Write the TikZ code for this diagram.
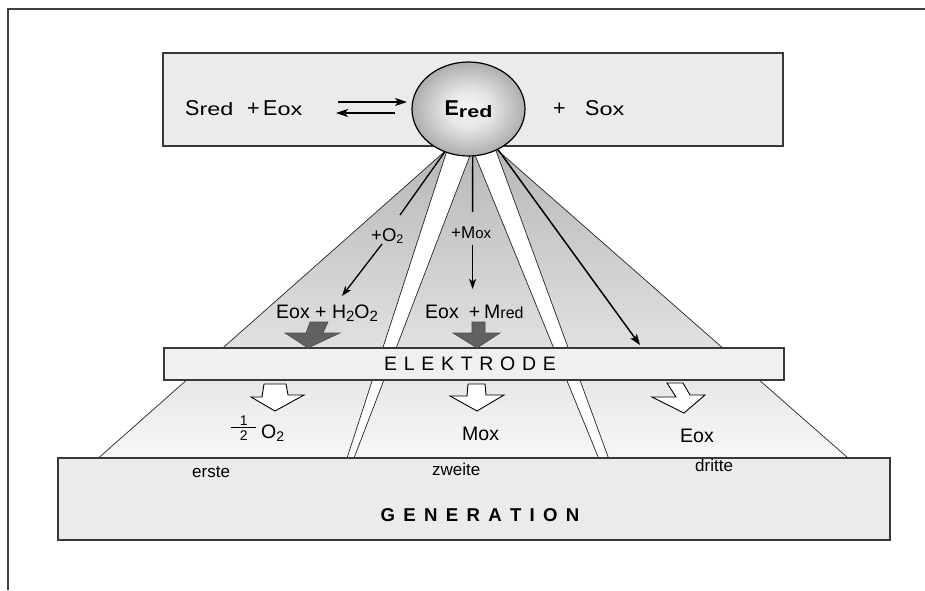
\documentclass[tikz,border=0pt]{standalone}
\usepackage{fontspec}
\setmainfont{Liberation Sans}
\usetikzlibrary{shapes.geometric,arrows.meta}

% font sizes used in the labels
\newcommand\fsbig{\fontsize{21.5}{25}\selectfont}
\newcommand\fsmid{\fontsize{19.5}{23}\selectfont}
% widened index letters (red, ox)
\newcommand\widesub[2][18]{{\fontsize{#1}{#1}\selectfont\scalebox{1.3}[1]{#2}}}
% lowered digit two: size, drop
\newcommand\lowtwo[2]{\raisebox{-#2}{\fontsize{#1}{#1}\selectfont 2}}
% stacked one half
\newcommand\halffrac{\raisebox{-2.5pt}{\vbox{\hbox to 25pt{\hss\fontsize{14}{14}\selectfont 1\hss}\kern2pt\hrule height 0.8pt\kern2.5pt\hbox to 25pt{\hss\fontsize{14}{14}\selectfont 2\hss}}}}

% grey sphere shading for the enzyme
\pgfdeclareradialshading{enzymeball}{\pgfpoint{0bp}{0bp}}{%
  color(0bp)=(black!3); color(10bp)=(black!10); color(25bp)=(black!32);
  color(38bp)=(black!48); color(50bp)=(black!58)}

\begin{document}
\begin{tikzpicture}[x=1pt,y=-1pt,
  box/.style={fill=black!8, draw=black!78, line width=1.1pt},
  wedge/.style={draw=black!85, line width=0.7pt, top color=black!28, bottom color=black!3},
  lab/.style={inner sep=0pt, anchor=base west},
  conn/.style={line width=1.3pt, black},
  tip/.style={-{Stealth[length=10pt,width=7pt,inset=2.5pt]}},
  eqtip/.style={-{Stealth[length=12pt,width=8pt,inset=3pt]}},
  solidarrow/.style={fill=black!62, draw=black!70, line width=0.6pt},
  hollowarrow/.style={fill=white, draw=black, line width=0.9pt},
]
\fill[white] (0,0) rectangle (925,590);
\useasboundingbox (0,0) rectangle (925,590);

% page frame
\draw[black!75, line width=1.4pt] (8,590) -- (8,9) -- (925,9);

% reaction bar
\path[box] (163,53) rectangle (783,146);

% three generation wedges
\path[wedge] (447.5,149) -- (98.5,458) -- (347,458) -- cycle;
\path[wedge] (472.5,149) -- (354,458) -- (598.5,458) -- cycle;
\path[wedge] (495,148) -- (608.5,458) -- (848,458) -- cycle;

% electrode and generation bars
\path[box, fill=black!6] (164,348) rectangle (784,380);
\path[box] (58,458) rectangle (890,540);
\node[inner sep=0pt] (elek) at (470,363.5) {\fsmid E\kern6.7pt L\kern6.7pt E\kern6.7pt K\kern6.7pt T\kern6.7pt R\kern6.7pt O\kern6.7pt D\kern6.7pt E};
\node[inner sep=0pt] (gen) at (480,515) {\bfseries\fontsize{18.6}{20}\selectfont G\kern8.3pt E\kern8.3pt N\kern8.3pt E\kern8.3pt R\kern8.3pt A\kern8.3pt T\kern8.3pt I\kern8.3pt O\kern8.3pt N};

% enzyme
\node[ellipse, draw=black, line width=1.2pt, minimum width=113pt, minimum height=94pt,
      shade, shading=enzymeball, inner sep=0pt] (ered) at (468.5,109)
      {\bfseries\fsbig E\raisebox{-1.5pt}{\widesub[16.5]{red}}};

% reaction line
\node[lab] (sred) at (185,115) {\fsbig S\widesub{red}};
\node[lab] (eoxtop) at (247,115) {\fsbig +\kern3.5pt E\widesub{ox}};
\node[lab] (plus) at (553,115) {\fsbig +};
\node[lab] (sox) at (585,115) {\fsbig S\widesub{ox}};
\coordinate (eqa) at (338,102);
\coordinate (eqb) at (407,102);
\coordinate (eqc) at (395,113);
\coordinate (eqd) at (336,113);
\draw[conn, line width=1.5pt, eqtip] (eqa) -- (eqb);
\draw[conn, line width=1.5pt, eqtip] (eqc) -- (eqd);

% first generation: oxygen
\node[lab] (o2lab) at (371,241) {\fontsize{18.5}{20}\selectfont +O\lowtwo{12.5}{2.5pt}};
\coordinate (o2a) at (400,215);
\coordinate (o2b) at (382,244);
\coordinate (o2c) at (342,296);
\draw[conn] (ered.-119) -- (o2a);
\draw[conn, tip] (o2b) -- (o2c);
\node[lab] (eoxh) at (276,318) {\fsmid Eox + H\lowtwo{15}{3pt}O\lowtwo{15}{3pt}};

% second generation: mediator
\node[lab] (moxlab) at (451,238) {\fontsize{17}{19}\selectfont +M{\fontsize{15}{17}\selectfont ox}};
\coordinate (mxa) at (472.6,212);
\coordinate (mxb) at (472.6,245);
\coordinate (mxc) at (472.6,289);
\draw[conn] (ered.-85) -- (mxa);
\draw[conn, tip] (mxb) -- (mxc);
\node[lab] (eoxm) at (425,318) {\fsmid Eox\hspace{10pt}+\hspace{4pt}M{\fontsize{16}{18}\selectfont red}};

% third generation: direct transfer
\coordinate (dir) at (640,345);
\draw[conn, line width=1.5pt, -{Stealth[length=11pt,width=8pt,inset=2.5pt]}] (ered.-54) -- (dir);

% arrows into the electrode
\path[solidarrow] (310,322) -- (328,322) -- (323,333) -- (340,333) -- (308,348) -- (285,333) -- (306,333) -- cycle;
\path[solidarrow] (472,322) -- (485,322) -- (485,333) -- (500,333) -- (477,348) -- (453,333) -- (472,333) -- cycle;

% arrows out of the electrode
\path[hollowarrow] (264,384) -- (286,384) -- (288,395) -- (304,395) -- (275,411) -- (251,397) -- (262,397) -- cycle;
\path[hollowarrow] (468,384) -- (485,384) -- (486,395) -- (504,395) -- (477,411) -- (450,396) -- (467,396) -- cycle;
\path[hollowarrow] (667,383) -- (683,383) -- (690,395) -- (705,395) -- (684,413) -- (652,397) -- (676,397) -- cycle;

% products
\node[lab] (halfo2) at (231,438) {\halffrac\kern5pt\fsmid O\lowtwo{14}{3pt}};
\node[lab] (moxb) at (462,440) {\fsmid Mox};
\node[lab] (eoxb) at (680,442) {\fsmid Eox};

% generation names
\node[lab] (erste) at (192,477) {\fontsize{17}{19}\selectfont erste};
\node[lab] (zweite) at (432,475) {\fontsize{17}{19}\selectfont zweite};
\node[lab] (dritte) at (695,471) {\fontsize{17}{19}\selectfont dritte};
\end{tikzpicture}
\end{document}
